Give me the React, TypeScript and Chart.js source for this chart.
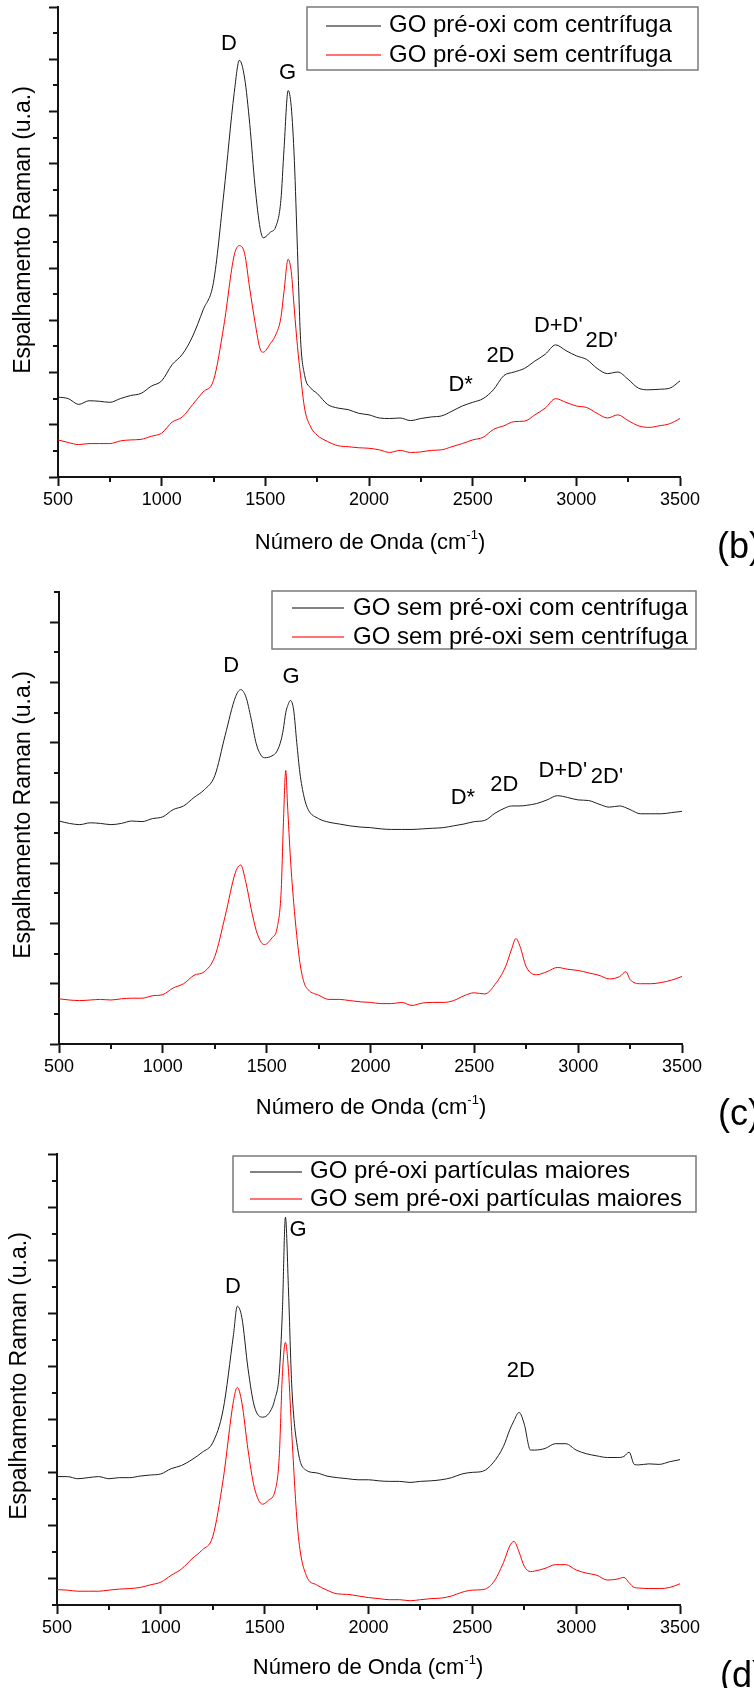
import React, { useEffect, useRef } from "react";
import { Chart, registerables } from "chart.js";

Chart.register(...registerables);

const FONT = 'Arial, "Liberation Sans", Helvetica, sans-serif';
const AXIS_COLOR = "#141414";
const BLACK_LINE = "#1e1e1e";
const RED_LINE = "#ff0000";

// ---------- shared axis data ----------
const X_MIN = 500;
const X_MAX = 3500;
const X_MAJOR_TICKS = [500, 1000, 1500, 2000, 2500, 3000, 3500];
const X_MINOR_TICKS = [750, 1250, 1750, 2250, 2750, 3250];
const X_TITLE = "Número de Onda (cm";
const X_TITLE_SUP = "-1";
const X_TITLE_END = ")";
const Y_TITLE = "Espalhamento Raman (u.a.)";

// ---------- panel (b) ----------
const B_LETTER = "(b)";
const B_LABELS = ["GO pré-oxi com centrífuga", "GO pré-oxi sem centrífuga"];
const B_X = [
  500, 550, 600, 650, 700, 750, 800, 850, 900, 950, 1000, 1050, 1100, 1150, 1200, 1250, 1300, 1350,
  1375, 1400, 1425, 1450, 1475, 1490, 1525, 1550, 1575, 1590, 1610, 1625, 1640, 1655, 1670, 1690, 1720,
  1750, 1800, 1850, 1900, 1950, 2000, 2050, 2100, 2150, 2200, 2250, 2300, 2350, 2400, 2450, 2500, 2550,
  2600, 2650, 2700, 2750, 2800, 2850, 2900, 2950, 3000, 3050, 3100, 3150, 3200, 3250, 3300, 3350, 3400,
  3450, 3500,
];
const B_BLACK = [
  1.53, 1.5, 1.39, 1.46, 1.45, 1.43, 1.5, 1.56, 1.6, 1.74, 1.84, 2.15, 2.35, 2.7, 3.2, 3.73, 5.44, 7.36,
  7.98, 7.64, 6.75, 5.58, 4.76, 4.58, 4.69, 4.79, 5.3, 6.27, 7.4, 7.09, 6.06, 4.34, 2.63, 1.94, 1.7,
  1.6, 1.39, 1.32, 1.29, 1.22, 1.19, 1.13, 1.12, 1.13, 1.08, 1.12, 1.15, 1.17, 1.26, 1.36, 1.43, 1.5,
  1.67, 1.94, 2.01, 2.08, 2.22, 2.35, 2.53, 2.42, 2.32, 2.25, 2.08, 1.98, 2.01, 1.87, 1.7, 1.67, 1.68,
  1.7, 1.84,
];
const B_RED = [
  0.71, 0.66, 0.62, 0.64, 0.64, 0.64, 0.69, 0.71, 0.72, 0.78, 0.84, 1.05, 1.15, 1.39, 1.63, 1.85, 2.9, 4.25,
  4.43, 4.28, 3.6, 2.97, 2.45, 2.39, 2.56, 2.72, 3.05, 3.55, 4.17, 3.93, 3.2, 2.5, 1.94, 1.3, 0.95,
  0.8, 0.68, 0.6, 0.58, 0.56, 0.55, 0.52, 0.47, 0.51, 0.47, 0.48, 0.51, 0.52, 0.58, 0.64, 0.71, 0.76,
  0.91, 0.98, 1.06, 1.07, 1.19, 1.32, 1.5, 1.43, 1.36, 1.33, 1.22, 1.13, 1.19, 1.08, 0.98, 0.95, 0.98,
  1.02, 1.12,
];
const B_PEAK_NAMES = ["D", "G", "D*", "2D", "D+D'", "2D'"];
const B_PEAK_X = [1324, 1607, 2442, 2634, 2913, 3122];
const B_PEAK_Y = [8.29, 7.73, 1.77, 2.31, 2.89, 2.61];
const B_Y_MAX = 9;
const B_Y_MAJOR = [0, 1, 2, 3, 4, 5, 6, 7, 8, 9];
const B_Y_MINOR = [0.5, 1.5, 2.5, 3.5, 4.5, 5.5, 6.5, 7.5, 8.5];

// ---------- panel (c) ----------
const C_LETTER = "(c)";
const C_LABELS = ["GO sem pré-oxi com centrífuga", "GO sem pré-oxi sem centrífuga"];
const C_X = [
  500, 550, 600, 650, 700, 750, 800, 850, 900, 950, 1000, 1050, 1100, 1150, 1200, 1250, 1300, 1350,
  1375, 1400, 1425, 1450, 1475, 1490, 1525, 1550, 1570, 1580, 1592, 1600, 1615, 1630, 1645, 1660, 1680, 1700,
  1750, 1800, 1850, 1900, 1950, 2000, 2050, 2100, 2150, 2200, 2250, 2300, 2350, 2400, 2450, 2500, 2550, 2600, 2650,
  2680, 2700, 2720,
  2750, 2800, 2850, 2900, 2950, 3000, 3050, 3100, 3150, 3200,
  3230,
  3250, 3300, 3350, 3400, 3450, 3500,
];
const C_BLACK = [
  3.7, 3.66, 3.64, 3.67, 3.66, 3.64, 3.66, 3.7, 3.69, 3.74, 3.77, 3.89, 3.95, 4.09, 4.22, 4.45, 5.12, 5.76,
  5.88, 5.76, 5.4, 4.98, 4.78, 4.75, 4.78, 4.86, 5.05, 5.22, 5.5, 5.6, 5.7, 5.54, 5.0, 4.5, 4.1, 3.89,
  3.74, 3.68, 3.65, 3.62, 3.6, 3.59, 3.57, 3.56, 3.56, 3.56, 3.57, 3.58, 3.59, 3.62, 3.65, 3.69, 3.71, 3.83, 3.92,
  3.95, 3.95, 3.95,
  3.96, 3.99, 4.05, 4.12, 4.09, 4.05, 4.04, 3.98, 3.93, 3.95,
  3.92,
  3.89, 3.82, 3.82, 3.82, 3.84, 3.86,
];
const C_RED = [
  0.75, 0.73, 0.72, 0.73, 0.74, 0.73, 0.75, 0.76, 0.76, 0.8, 0.82, 0.93, 1.0, 1.14, 1.2, 1.45, 2.12, 2.85,
  2.97, 2.68, 2.25, 1.88, 1.68, 1.65, 1.76, 1.92, 2.55, 3.6, 4.54, 4.0, 3.05, 2.35, 1.8, 1.35, 1.02, 0.9,
  0.81, 0.74, 0.74, 0.72, 0.7, 0.69, 0.67, 0.67, 0.69, 0.64, 0.68, 0.69, 0.69, 0.72, 0.8, 0.85, 0.83, 0.99, 1.28,
  1.58, 1.75, 1.62,
  1.28, 1.15, 1.2, 1.27, 1.24, 1.22, 1.18, 1.14, 1.08, 1.12,
  1.2,
  1.07, 1.0, 1.0, 1.02, 1.06, 1.12,
];
const C_PEAK_NAMES = ["D", "G", "D*", "2D", "D+D'", "2D'"];
const C_PEAK_X = [1329, 1618, 2445, 2644, 2926, 3139];
const C_PEAK_Y = [6.27, 6.09, 4.08, 4.3, 4.53, 4.43];
const C_Y_MAX = 7.5;
const C_Y_MAJOR = [0, 1, 2, 3, 4, 5, 6, 7];
const C_Y_MINOR = [0.5, 1.5, 2.5, 3.5, 4.5, 5.5, 6.5, 7.5];

// ---------- panel (d) ----------
const D_LETTER = "(d)";
const D_LABELS = ["GO pré-oxi partículas maiores", "GO sem pré-oxi partículas maiores"];
const D_X = [
  500, 550, 600, 650, 700, 750, 800, 850, 900, 950, 1000, 1050, 1100, 1150, 1200, 1250, 1300, 1350,
  1368, 1390, 1420, 1450, 1490, 1520, 1550, 1570, 1585, 1600, 1615, 1630, 1660, 1700,
  1750, 1800, 1850, 1900, 1950, 2000, 2050, 2100, 2150, 2200, 2250, 2300, 2350, 2400, 2450, 2500, 2550, 2600, 2650,
  2680, 2700, 2725, 2750, 2780,
  2800, 2850, 2900, 2950, 3000, 3050, 3100, 3150, 3200,
  3230, 3255, 3280,
  3300, 3350, 3400, 3450, 3500,
];
const D_BLACK = [
  2.42, 2.42, 2.38, 2.4, 2.42, 2.38, 2.4, 2.4, 2.43, 2.45, 2.47, 2.57, 2.63, 2.74, 2.88, 3.06, 3.68, 5.1,
  5.63, 5.42, 4.45, 3.75, 3.54, 3.61, 3.89, 4.35, 5.5, 7.31, 5.9, 4.17, 2.92, 2.54,
  2.49, 2.43, 2.4, 2.38, 2.36, 2.36, 2.34, 2.33, 2.33, 2.31, 2.33, 2.34, 2.36, 2.4, 2.47, 2.5, 2.52, 2.68, 2.99,
  3.3, 3.47, 3.63, 3.41, 2.92,
  2.92, 2.95, 3.04, 3.04, 2.92, 2.85, 2.81, 2.78, 2.78,
  2.8, 2.88, 2.65,
  2.64, 2.66, 2.65, 2.7, 2.74,
];
const D_RED = [
  0.29, 0.28, 0.26, 0.26, 0.26, 0.28, 0.3, 0.31, 0.33, 0.38, 0.43, 0.56, 0.68, 0.87, 1.04, 1.29, 2.36, 3.85,
  4.1, 3.82, 2.92, 2.22, 1.9, 1.98, 2.15, 2.78, 4.31, 4.95, 4.4, 3.27, 1.39, 0.56,
  0.38, 0.28, 0.21, 0.2, 0.17, 0.14, 0.12, 0.1, 0.1, 0.08, 0.1, 0.12, 0.13, 0.17, 0.24, 0.28, 0.29, 0.42, 0.8,
  1.11, 1.2, 1.0, 0.73, 0.63,
  0.64, 0.69, 0.76, 0.76, 0.66, 0.6, 0.56, 0.47, 0.49,
  0.52, 0.42, 0.33,
  0.32, 0.31, 0.31, 0.33, 0.4,
];
const D_PEAK_NAMES = ["D", "G", "2D"];
const D_PEAK_X = [1347, 1661, 2733];
const D_PEAK_Y = [6.0, 7.07, 4.41];
const D_Y_MAX = 8.5;
const D_Y_MAJOR = [0.5, 1.5, 2.5, 3.5, 4.5, 5.5, 6.5, 7.5, 8.5];
const D_Y_MINOR = [0, 1, 2, 3, 4, 5, 6, 7, 8];

// ---------- layout (pixels, local to each canvas) ----------
type Panel = {
  letter: string;
  labels: string[];
  xs: number[];
  black: number[];
  red: number[];
  peakNames: string[];
  peakX: number[];
  peakY: number[];
  yMax: number;
  yMajor: number[];
  yMinor: number[];
  top: number;
  height: number;
  area: { left: number; right: number; top: number; bottom: number };
  legend: { x0: number; x1: number; y0: number; y1: number; rows: number[]; lx0: number; lx1: number; tx: number };
  xTitle: { cx: number; baseline: number };
  yTitle: { x: number; cy: number };
  letterPos: { x: number; baseline: number };
};

const PANELS: Panel[] = [
  {
    letter: B_LETTER, labels: B_LABELS, xs: B_X, black: B_BLACK, red: B_RED,
    peakNames: B_PEAK_NAMES, peakX: B_PEAK_X, peakY: B_PEAK_Y,
    yMax: B_Y_MAX, yMajor: B_Y_MAJOR, yMinor: B_Y_MINOR,
    top: 0, height: 580,
    area: { left: 58, right: 680, top: 7, bottom: 477 },
    legend: { x0: 307, x1: 698, y0: 7, y1: 70, rows: [25.5, 55], lx0: 326, lx1: 381, tx: 389 },
    xTitle: { cx: 370, baseline: 549 },
    yTitle: { x: 30, cy: 230 },
    letterPos: { x: 717, baseline: 558 },
  },
  {
    letter: C_LETTER, labels: C_LABELS, xs: C_X, black: C_BLACK, red: C_RED,
    peakNames: C_PEAK_NAMES, peakX: C_PEAK_X, peakY: C_PEAK_Y,
    yMax: C_Y_MAX, yMajor: C_Y_MAJOR, yMinor: C_Y_MINOR,
    top: 565, height: 575,
    area: { left: 59, right: 682, top: 27, bottom: 479 },
    legend: { x0: 272, x1: 696, y0: 26, y1: 84, rows: [43, 72], lx0: 292, lx1: 344, tx: 353 },
    xTitle: { cx: 371, baseline: 549 },
    yTitle: { x: 30, cy: 250 },
    letterPos: { x: 718, baseline: 560 },
  },
  {
    letter: D_LETTER, labels: D_LABELS, xs: D_X, black: D_BLACK, red: D_RED,
    peakNames: D_PEAK_NAMES, peakX: D_PEAK_X, peakY: D_PEAK_Y,
    yMax: D_Y_MAX, yMajor: D_Y_MAJOR, yMinor: D_Y_MINOR,
    top: 1140, height: 548,
    area: { left: 57, right: 680, top: 14, bottom: 465 },
    legend: { x0: 233, x1: 696, y0: 16, y1: 72, rows: [31.5, 59], lx0: 250, lx1: 302, tx: 310 },
    xTitle: { cx: 368, baseline: 534 },
    yTitle: { x: 26, cy: 236 },
    letterPos: { x: 720, baseline: 547 },
  },
];

const W = 754;

function makeDecor(p: Panel) {
  return {
    id: "decor",
    afterDraw(chart: any) {
      const ctx: CanvasRenderingContext2D = chart.ctx;
      const xs = chart.scales.x;
      const ys = chart.scales.y;
      const a = chart.chartArea;
      ctx.save();

      // minor ticks
      ctx.strokeStyle = AXIS_COLOR;
      ctx.lineWidth = 2;
      ctx.beginPath();
      for (const v of X_MINOR_TICKS) {
        const px = Math.round(xs.getPixelForValue(v));
        ctx.moveTo(px, a.bottom);
        ctx.lineTo(px, a.bottom + 5);
      }
      for (const v of p.yMinor) {
        const py = Math.round(ys.getPixelForValue(v));
        ctx.moveTo(a.left, py);
        ctx.lineTo(a.left - 5, py);
      }
      ctx.stroke();

      // peak annotations
      ctx.fillStyle = "#000";
      ctx.font = `22px ${FONT}`;
      ctx.textAlign = "center";
      ctx.textBaseline = "middle";
      p.peakNames.forEach((name, i) => {
        ctx.fillText(name, xs.getPixelForValue(p.peakX[i]), ys.getPixelForValue(p.peakY[i]));
      });

      // legend
      const L = p.legend;
      ctx.fillStyle = "#fff";
      ctx.fillRect(L.x0, L.y0, L.x1 - L.x0, L.y1 - L.y0);
      ctx.strokeStyle = "#7a7a7a";
      ctx.lineWidth = 1.5;
      ctx.strokeRect(L.x0, L.y0, L.x1 - L.x0, L.y1 - L.y0);
      chart.data.datasets.forEach((ds: any, i: number) => {
        const y = L.rows[i];
        ctx.save();
        ctx.globalAlpha = 0.55;
        ctx.strokeStyle = ds.borderColor;
        ctx.lineWidth = 2;
        ctx.beginPath();
        ctx.moveTo(L.lx0, Math.round(y));
        ctx.lineTo(L.lx1, Math.round(y));
        ctx.stroke();
        ctx.restore();
        ctx.fillStyle = "#000";
        ctx.font = `24px ${FONT}`;
        ctx.textAlign = "left";
        ctx.textBaseline = "middle";
        ctx.fillText(ds.label, L.tx, y);
      });

      // x title with superscript
      ctx.fillStyle = "#000";
      ctx.textBaseline = "alphabetic";
      ctx.textAlign = "left";
      const mainFont = `22px ${FONT}`;
      const supFont = `13px ${FONT}`;
      ctx.font = mainFont;
      const w1 = ctx.measureText(X_TITLE).width;
      const w3 = ctx.measureText(X_TITLE_END).width;
      ctx.font = supFont;
      const w2 = ctx.measureText(X_TITLE_SUP).width;
      const x0 = p.xTitle.cx - (w1 + w2 + w3) / 2;
      ctx.font = mainFont;
      ctx.fillText(X_TITLE, x0, p.xTitle.baseline);
      ctx.font = supFont;
      ctx.fillText(X_TITLE_SUP, x0 + w1, p.xTitle.baseline - 10);
      ctx.font = mainFont;
      ctx.fillText(X_TITLE_END, x0 + w1 + w2, p.xTitle.baseline);

      // y title
      ctx.save();
      ctx.translate(p.yTitle.x, p.yTitle.cy);
      ctx.rotate(-Math.PI / 2);
      ctx.font = `23px ${FONT}`;
      ctx.textAlign = "center";
      ctx.textBaseline = "alphabetic";
      ctx.fillText(Y_TITLE, 0, 0);
      ctx.restore();

      // panel letter
      ctx.font = `36px ${FONT}`;
      ctx.textAlign = "left";
      ctx.textBaseline = "alphabetic";
      ctx.fillText(p.letter, p.letterPos.x, p.letterPos.baseline);

      ctx.restore();
    },
  };
}

function PanelChart({ p }: { p: Panel }) {
  const ref = useRef<HTMLCanvasElement | null>(null);
  useEffect(() => {
    if (!ref.current) return;
    const toPts = (ys: number[]) => p.xs.map((x, i) => ({ x, y: ys[i] }));
    const chart = new Chart(ref.current, {
      type: "line",
      data: {
        datasets: [
          {
            label: p.labels[0],
            data: toPts(p.black),
            borderColor: BLACK_LINE,
            borderWidth: 1,
            pointRadius: 0,
            cubicInterpolationMode: "monotone",
            fill: false,
          },
          {
            label: p.labels[1],
            data: toPts(p.red),
            borderColor: RED_LINE,
            borderWidth: 1,
            pointRadius: 0,
            cubicInterpolationMode: "monotone",
            fill: false,
          },
        ],
      },
      options: {
        animation: false,
        responsive: false,
        maintainAspectRatio: false,
        devicePixelRatio: 1,
        layout: {
          padding: { top: p.area.top, right: W - p.area.right, bottom: 0, left: 0 },
        },
        plugins: { legend: { display: false }, tooltip: { enabled: false } },
        scales: {
          x: {
            type: "linear",
            min: X_MIN,
            max: X_MAX,
            afterBuildTicks: (s: any) => {
              s.ticks = X_MAJOR_TICKS.map((v) => ({ value: v }));
            },
            afterFit: (s: any) => {
              s.height = p.height - p.area.bottom;
            },
            grid: {
              display: true,
              drawOnChartArea: false,
              drawTicks: true,
              tickLength: 9,
              tickWidth: 2,
              tickColor: AXIS_COLOR,
            },
            border: { display: true, color: AXIS_COLOR, width: 2 },
            ticks: {
              font: { family: FONT, size: 18 },
              color: "#000",
              padding: 3,
              maxRotation: 0,
              autoSkip: false,
              callback: (v: any) => String(v),
            },
          },
          y: {
            type: "linear",
            min: 0,
            max: p.yMax,
            afterBuildTicks: (s: any) => {
              s.ticks = p.yMajor.map((v) => ({ value: v }));
            },
            afterFit: (s: any) => {
              s.width = p.area.left;
            },
            grid: {
              display: true,
              drawOnChartArea: false,
              drawTicks: true,
              tickLength: 9,
              tickWidth: 2,
              tickColor: AXIS_COLOR,
            },
            border: { display: true, color: AXIS_COLOR, width: 2 },
            ticks: { display: false },
          },
        },
      },
      plugins: [makeDecor(p)],
    } as any);
    return () => chart.destroy();
  }, [p]);
  return (
    <canvas
      ref={ref}
      width={W}
      height={p.height}
      style={{ position: "absolute", left: 0, top: p.top, width: W, height: p.height }}
    />
  );
}

export default function App() {
  return (
    <div
      style={{
        position: "absolute",
        left: 0,
        top: 0,
        width: W,
        height: 1688,
        background: "#fff",
        overflow: "hidden",
      }}
    >
      {PANELS.map((p) => (
        <PanelChart key={p.letter} p={p} />
      ))}
    </div>
  );
}
